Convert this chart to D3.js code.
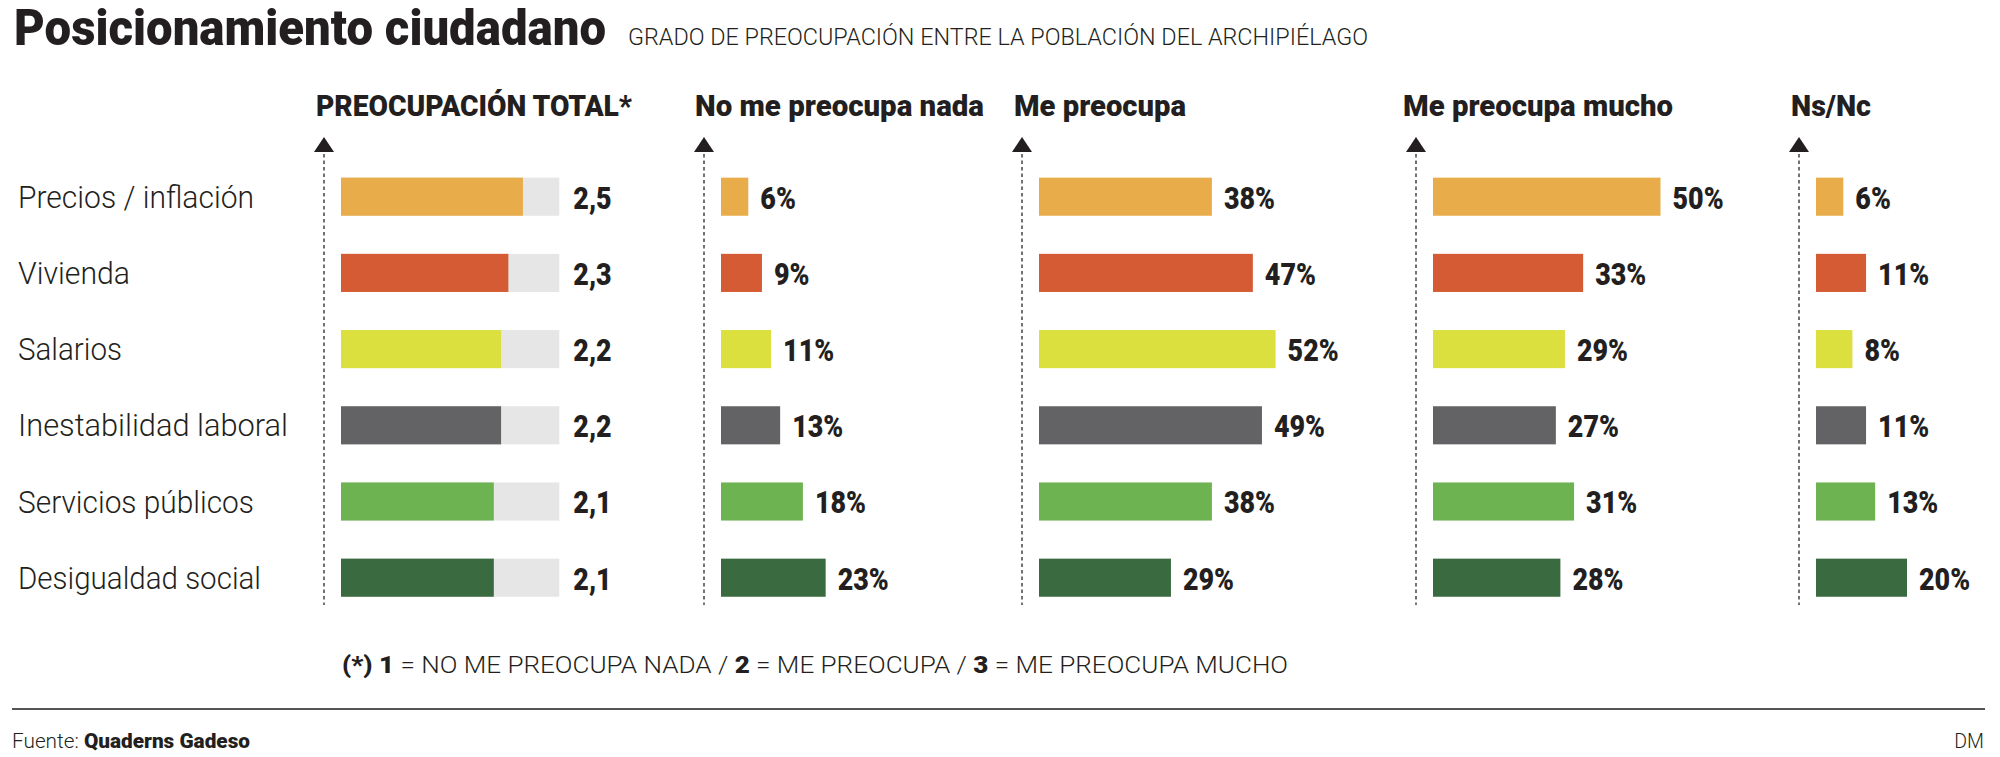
<!DOCTYPE html>
<html><head><meta charset="utf-8">
<script src="https://cdn.jsdelivr.net/npm/d3@7"></script>
<style>
html,body{margin:0;padding:0;background:#fff;}
svg{display:block;font-family:Roboto,"Liberation Sans",sans-serif;}
</style>
</head><body>
<svg id="chart" width="2000" height="757"></svg>
<script>
// ---------- DATA ----------
const categories = ["Precios / inflación","Vivienda","Salarios","Inestabilidad laboral","Servicios públicos","Desigualdad social"];
const categoryColors = ["#E8AD4A","#D45B33","#DCE03F","#636366","#6DB352","#3A6A3F"];
const totalValues = [2.5, 2.3, 2.2, 2.2, 2.1, 2.1];
const nadaValues = [6, 9, 11, 13, 18, 23];
const preocupaValues = [38, 47, 52, 49, 38, 29];
const muchoValues = [50, 33, 29, 27, 31, 28];
const nsncValues = [6, 11, 8, 11, 13, 20];
const columnTitles = ["PREOCUPACIÓN TOTAL*","No me preocupa nada","Me preocupa","Me preocupa mucho","Ns/Nc"];
const totalMax = 3;

// ---------- LAYOUT ----------
const svg = d3.select("#chart");
const ink = "#231F20";
function fit(sel, w){ if (w) sel.attr("textLength", w).attr("lengthAdjust","spacingAndGlyphs"); return sel; }
function condense(sel, f){ sel.each(function(){ const n = this.getComputedTextLength(); d3.select(this).attr("textLength", n*f).attr("lengthAdjust","spacingAndGlyphs"); }); return sel; }

// Title
fit(svg.append("text").attr("x",14).attr("y",45).attr("font-size",50).attr("font-weight",900)
  .attr("fill",ink).text("Posicionamiento ciudadano"), 592);
fit(svg.append("text").attr("x",628).attr("y",45).attr("font-size",23.5).attr("font-weight",300)
  .attr("fill",ink).text("GRADO DE PREOCUPACIÓN ENTRE LA POBLACIÓN DEL ARCHIPIÉLAGO"), 740);

const y = d3.scaleBand().domain(categories).range([158.6, 615.8]).paddingInner(0.5).paddingOuter(0.25);
const xTotal = d3.scaleLinear().domain([0, totalMax]).range([0, 218.3]);
const xPct = d3.scaleLinear().domain([0, 100]).range([0, 455]);
const fmtTotal = d => d3.format(".1f")(d).replace(".", ",");
const fmtPct = d => d + "%";

// Row labels
const labelWidths = [236, 112, 104, 270, 236, 243];
svg.append("g").selectAll("text").data(categories).join("text")
  .attr("x", 18).attr("y", d => y(d) + y.bandwidth()/2 + 11)
  .attr("font-size", 31).attr("font-weight", 300).attr("fill", ink)
  .text(d => d)
  .each(function(d,i){ fit(d3.select(this), labelWidths[i]); });

const columns = [
  {title: columnTitles[0], values: totalValues, scale: xTotal, fmt: fmtTotal, bg: true, axisX: 324, headX: 316, headW: 316},
  {title: columnTitles[1], values: nadaValues, scale: xPct, fmt: fmtPct, axisX: 704, headX: 695, headW: 289},
  {title: columnTitles[2], values: preocupaValues, scale: xPct, fmt: fmtPct, axisX: 1022, headX: 1014, headW: 172},
  {title: columnTitles[3], values: muchoValues, scale: xPct, fmt: fmtPct, axisX: 1416, headX: 1403, headW: 270},
  {title: columnTitles[4], values: nsncValues, scale: xPct, fmt: fmtPct, axisX: 1799, headX: 1791, headW: 80}
];

columns.forEach(col => {
  fit(svg.append("text").attr("x", col.headX).attr("y", 116).attr("font-size", 29).attr("font-weight", 900)
    .attr("fill", ink).text(col.title), col.headW);
  const g = svg.append("g").attr("transform", `translate(${col.axisX},0)`);
  g.append("path").attr("d", "M0,137L10,152L-10,152Z").attr("fill", ink);
  g.append("line").attr("x1",0).attr("x2",0).attr("y1",154).attr("y2",605)
    .attr("stroke","#444").attr("stroke-width",1.5).attr("stroke-dasharray","3.5,3");
  const bx = 17;
  const rows = g.selectAll("g.row").data(categories).join("g").attr("class","row")
    .attr("transform", d => `translate(${bx},${y(d)})`);
  if (col.bg) {
    rows.append("rect").attr("x",0).attr("y",0).attr("height",y.bandwidth())
      .attr("width", col.scale(totalMax)).attr("fill","#E6E6E6");
  }
  rows.append("rect").attr("x",0).attr("y",0).attr("height",y.bandwidth())
    .attr("width", (d,i) => col.scale(col.values[i]))
    .attr("fill", (d,i) => categoryColors[i]);
  const lbl = rows.append("text")
    .attr("x", (d,i) => (col.bg ? col.scale(totalMax) + 14 : col.scale(col.values[i]) + 12))
    .attr("y", y.bandwidth()/2 + 12)
    .attr("font-size", 32).attr("font-weight", 900).attr("fill", ink)
    .text((d,i) => col.fmt(col.values[i]));
  condense(lbl, 0.84);
});

// Footnote
const foot = svg.append("text").attr("x", 342).attr("y", 673).attr("font-size", 24).attr("fill", ink).attr("font-weight",300);
[["(*) ",900],["1",900],[" = NO ME PREOCUPA NADA / ",300],["2",900],[" = ME PREOCUPA / ",300],["3",900],[" = ME PREOCUPA MUCHO",300]]
  .forEach(([t,w]) => foot.append("tspan").attr("font-weight", w).text(t));
fit(foot, 946);

svg.append("line").attr("x1",12).attr("x2",1985).attr("y1",709).attr("y2",709).attr("stroke","#555").attr("stroke-width",2);

const src = svg.append("text").attr("x",12).attr("y",748).attr("font-size",19.5).attr("fill",ink);
src.append("tspan").attr("font-weight",300).text("Fuente: ");
src.append("tspan").attr("font-weight",900).text("Quaderns Gadeso");
fit(src, 238);
svg.append("text").attr("x",1984).attr("y",748).attr("text-anchor","end").attr("font-size",19.5)
  .attr("font-weight",300).attr("fill",ink).text("DM");
</script>
</body></html>
